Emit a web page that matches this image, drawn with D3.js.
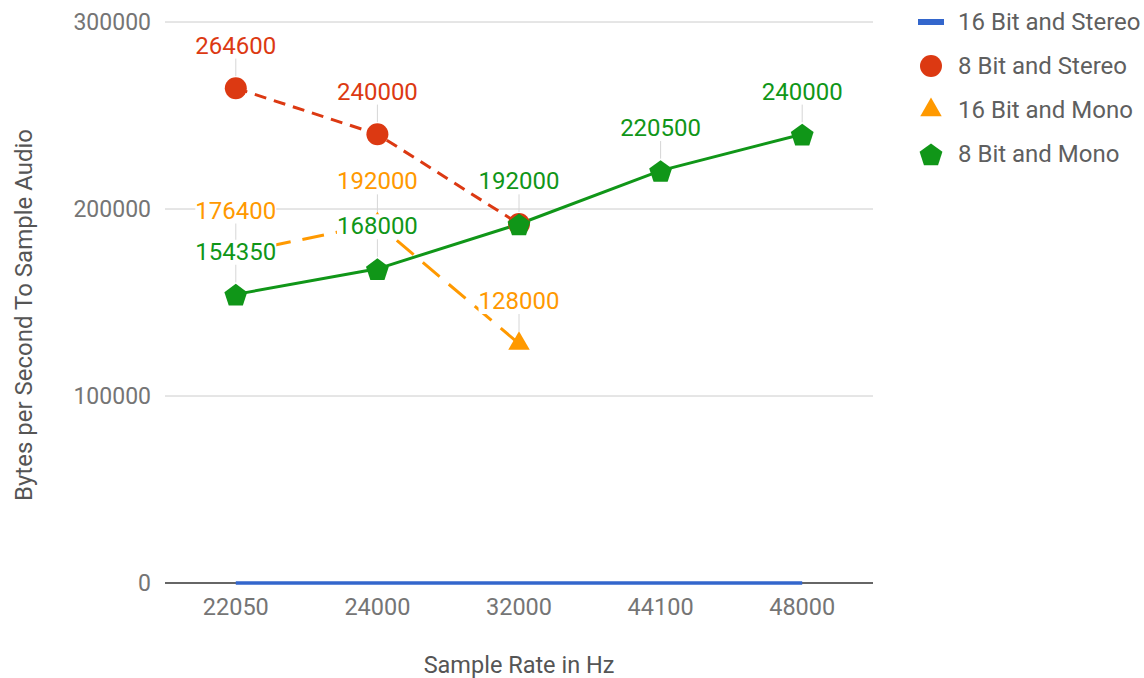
<!DOCTYPE html>
<html>
<head>
<meta charset="utf-8">
<script src="https://cdn.jsdelivr.net/npm/d3@7"></script>
<style>
  html, body { margin: 0; padding: 0; background: #fff; }
  svg { display: block; font-family: Roboto, "Noto Sans", sans-serif; }
</style>
</head>
<body>
<svg id="chart" width="1144" height="678"></svg>
<script>
// Sample rates on the x axis
const categories = ["22050", "24000", "32000", "44100", "48000"];

// Bytes per second for each format (null = no measurement)
const stereo16 = [0, 0, 0, 0, 0];
const stereo8 = [264600, 240000, 192000, null, null];
const mono16 = [176400, 192000, 128000, null, null];
const mono8 = [154350, 168000, 192000, 220500, 240000];

const yTicks = [0, 100000, 200000, 300000];

const series = [
  { name: "16 Bit and Stereo", values: stereo16, color: "#3366cc", shape: "bar", dash: null, labels: false, hide: [] },
  { name: "8 Bit and Stereo", values: stereo8, color: "#dc3912", shape: "circle", dash: "12,8", labels: true, hide: ["32000"] },
  { name: "16 Bit and Mono", values: mono16, color: "#ff9900", shape: "triangle", dash: "22,12", labels: true, hide: [] },
  { name: "8 Bit and Mono", values: mono8, color: "#109618", shape: "pentagon", dash: null, labels: true, hide: [] }
];

const svg = d3.select("#chart");
const plot = { left: 165, right: 873, top: 22, bottom: 583 };

const x = d3.scalePoint().domain(categories).range([plot.left, plot.right]).padding(0.5);
const y = d3.scaleLinear().domain([0, 300000]).range([plot.bottom, plot.top]);

// Gridlines and value axis labels
svg.append("g").selectAll("line").data(yTicks.filter(t => t !== 0)).join("line")
  .attr("x1", plot.left).attr("x2", plot.right)
  .attr("y1", d => y(d)).attr("y2", d => y(d))
  .attr("stroke", "#cccccc").attr("stroke-width", 1);

svg.append("g").selectAll("text").data(yTicks).join("text")
  .attr("x", 151).attr("y", d => y(d)).attr("dy", "0.35em")
  .attr("text-anchor", "end").attr("font-size", 23).attr("fill", "#757575")
  .text(d => d);

// Baseline
svg.append("line")
  .attr("x1", plot.left).attr("x2", plot.right)
  .attr("y1", y(0)).attr("y2", y(0))
  .attr("stroke", "#333333").attr("stroke-width", 1.5);

// Category labels
svg.append("g").selectAll("text").data(categories).join("text")
  .attr("x", d => x(d)).attr("y", 607).attr("dy", "0.35em")
  .attr("text-anchor", "middle").attr("font-size", 23.5).attr("fill", "#757575")
  .text(d => d);

// Axis titles
svg.append("text")
  .attr("x", 519).attr("y", 665).attr("dy", "0.35em")
  .attr("text-anchor", "middle").attr("font-size", 23.5).attr("fill", "#555")
  .text("Sample Rate in Hz");

svg.append("text")
  .attr("transform", "translate(24,315) rotate(-90)")
  .attr("dy", "0.35em")
  .attr("text-anchor", "middle").attr("font-size", 24).attr("fill", "#555")
  .text("Bytes per Second To Sample Audio");

// Marker shapes
const markerPath = {
  circle: d3.symbol(d3.symbolCircle, 380)(),
  triangle: d3.symbol(d3.symbolTriangle, 200)(),
  pentagon: (() => {
    const r = 12;
    const pts = d3.range(5).map(i => {
      const a = -Math.PI / 2 + i * 2 * Math.PI / 5;
      return [r * Math.cos(a), r * Math.sin(a) + 1.5];
    });
    return "M" + pts.map(p => p.join(",")).join("L") + "Z";
  })()
};

function pointsOf(s) {
  return categories.map((c, i) => ({ c, v: s.values[i] })).filter(p => p.v !== null);
}

const line = d3.line().x(d => x(d.c)).y(d => y(d.v));

// Series lines
series.forEach(s => {
  svg.append("path")
    .datum(pointsOf(s))
    .attr("d", line)
    .attr("fill", "none")
    .attr("stroke", s.color)
    .attr("stroke-width", s.shape === "bar" ? 3.5 : 3)
    .attr("stroke-dasharray", s.dash);
});

// Series markers
series.filter(s => s.shape !== "bar").forEach(s => {
  svg.append("g").selectAll("path").data(pointsOf(s)).join("path")
    .attr("transform", d => `translate(${x(d.c)},${y(d.v)})`)
    .attr("d", markerPath[s.shape])
    .attr("fill", s.color);
});

// Value annotations: stem plus label on a white backing
const annotations = svg.append("g");
series.filter(s => s.labels).forEach(s => {
  pointsOf(s).filter(p => !s.hide.includes(p.c)).forEach(p => {
    const px = x(p.c), py = y(p.v);
    annotations.append("line")
      .attr("x1", px).attr("x2", px)
      .attr("y1", py - 31).attr("y2", py - 12)
      .attr("stroke", "#d6d6d6").attr("stroke-width", 1);
    const g = annotations.append("g");
    const bg = g.append("rect").attr("fill", "#fff");
    const t = g.append("text")
      .attr("x", px).attr("y", py - 43).attr("dy", "0.35em")
      .attr("text-anchor", "middle").attr("font-size", 24)
      .attr("fill", s.color)
      .text(p.v);
    const b = t.node().getBBox();
    bg.attr("x", b.x).attr("y", b.y + 2).attr("width", b.width).attr("height", b.height - 3);
  });
});

// Legend
const legend = svg.append("g");
series.forEach((s, i) => {
  const cy = 22 + i * 44;
  if (s.shape === "bar") {
    legend.append("rect").attr("x", 918).attr("y", cy - 3).attr("width", 26).attr("height", 6).attr("fill", s.color);
  } else {
    legend.append("path").attr("transform", `translate(931,${cy})`).attr("d", markerPath[s.shape]).attr("fill", s.color);
  }
  legend.append("text")
    .attr("x", 958).attr("y", cy).attr("dy", "0.35em")
    .attr("font-size", 24).attr("fill", "#5f5f5f")
    .text(s.name);
});
</script>
</body>
</html>
